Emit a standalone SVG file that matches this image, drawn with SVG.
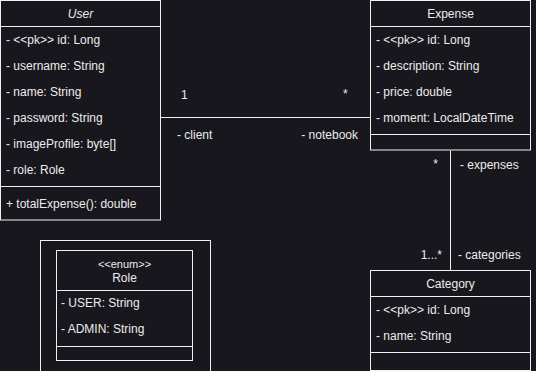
<svg xmlns="http://www.w3.org/2000/svg" width="536" height="371" viewBox="0 0 536 371">
  <style>
    .box { fill: #18171e; stroke: #f0f0f0; stroke-width: 1; }
    .sep { stroke: #f0f0f0; stroke-width: 1; }
    .edge { stroke: #f0f0f0; stroke-width: 1; fill: none; }
    text { font-family: "Liberation Sans", Arial, Helvetica, sans-serif; font-size: 12px; fill: #ececec; }
    .title { text-anchor: middle; }
    .small { font-size: 11px; }
  </style>
  <rect x="0" y="0" width="536" height="371" fill="#18171e"/>

  <!-- association lines -->
  <g id="connectors">
    <line class="edge" x1="160.5" y1="117.5" x2="370.5" y2="117.5"/>
    <text x="181" y="99">1</text>
    <text x="343" y="98">*</text>
    <text x="177" y="139">- client</text>
    <text x="358" y="139" text-anchor="end">- notebook</text>

    <line class="edge" x1="450.5" y1="150.5" x2="450.5" y2="270.5"/>
    <text x="438" y="168" text-anchor="end">*</text>
    <text x="460" y="169">- expenses</text>
    <text x="442" y="259" text-anchor="end">1...*</text>
    <text x="458" y="259">- categories</text>
  </g>

  <!-- User class -->
  <g id="user">
    <rect class="box" x="0.5" y="0.5" width="160" height="219.5"/>
    <line class="sep" x1="0.5" y1="26.5" x2="160.5" y2="26.5"/>
    <line class="sep" x1="0.5" y1="186.5" x2="160.5" y2="186.5"/>
    <text class="title" x="80.5" y="18" font-style="italic">User</text>
    <text x="6" y="44">- &lt;&lt;pk&gt;&gt; id: Long</text>
    <text x="6" y="70">- username: String</text>
    <text x="6" y="96">- name: String</text>
    <text x="6" y="122">- password: String</text>
    <text x="6" y="148">- imageProfile: byte[]</text>
    <text x="6" y="174">- role: Role</text>
    <text x="6" y="208">+ totalExpense(): double</text>
  </g>

  <!-- Expense class -->
  <g id="expense">
    <rect class="box" x="370.5" y="0.5" width="160" height="149.5"/>
    <line class="sep" x1="370.5" y1="26.5" x2="530.5" y2="26.5"/>
    <line class="sep" x1="370.5" y1="134.5" x2="530.5" y2="134.5"/>
    <text class="title" x="450.5" y="18">Expense</text>
    <text x="376" y="44">- &lt;&lt;pk&gt;&gt; id: Long</text>
    <text x="376" y="70">- description: String</text>
    <text x="376" y="96">- price: double</text>
    <text x="376" y="122">- moment: LocalDateTime</text>
  </g>

  <!-- Category class -->
  <g id="category">
    <rect class="box" x="370.5" y="270.5" width="160" height="100"/>
    <line class="sep" x1="370.5" y1="296.5" x2="530.5" y2="296.5"/>
    <line class="sep" x1="370.5" y1="352.5" x2="530.5" y2="352.5"/>
    <text class="title" x="450.5" y="288">Category</text>
    <text x="376" y="314">- &lt;&lt;pk&gt;&gt; id: Long</text>
    <text x="376" y="340">- name: String</text>
  </g>

  <!-- Role enumeration inside its frame -->
  <g id="role">
    <rect class="box" x="40.5" y="240.5" width="170" height="140"/>
    <rect class="box" x="56.5" y="250.5" width="136" height="110"/>
    <line class="sep" x1="56.5" y1="290.5" x2="192.5" y2="290.5"/>
    <line class="sep" x1="56.5" y1="346.5" x2="192.5" y2="346.5"/>
    <text class="title small" x="124.5" y="268">&lt;&lt;enum&gt;&gt;</text>
    <text class="title" x="124.5" y="282">Role</text>
    <text x="61" y="307">- USER: String</text>
    <text x="61" y="333">- ADMIN: String</text>
  </g>
</svg>
